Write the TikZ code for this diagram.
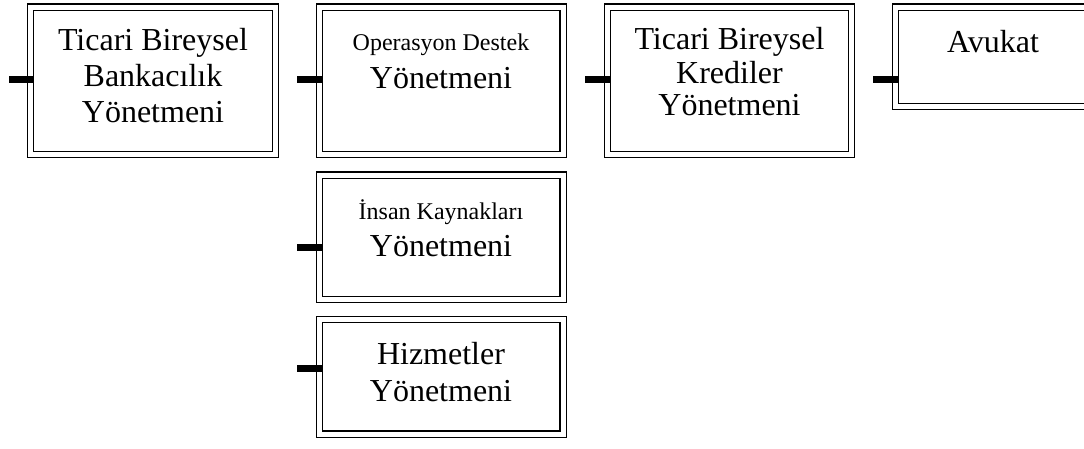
\documentclass[tikz,border=0pt]{standalone}
\usepackage{fontspec}
\setmainfont{Liberation Serif}
\begin{document}
\begin{tikzpicture}[x=1pt,y=-1pt,
  unit/.style={draw, double=white, double distance=5pt, line width=1.4pt,
    inner sep=0pt, outer sep=0pt},
  big/.style={font=\fontsize{32}{36}\selectfont, anchor=base, inner sep=0pt},
  small/.style={font=\fontsize{24}{28}\selectfont, anchor=base, inner sep=0pt},
  stub/.style={line width=7pt, shorten >=-3pt}]
\useasboundingbox (0,0) rectangle (1084,448);
\clip (0,0) rectangle (1084,448);

% double-framed units
\node[unit, minimum width=245pt, minimum height=147.5pt] (b1) at (153,80.75) {};
\node[unit, minimum width=243.5pt, minimum height=147.5pt] (b2) at (441.25,80.75) {};
\node[unit, minimum width=244pt, minimum height=147.5pt] (b3) at (729.5,80.75) {};
\node[unit, minimum width=244.5pt, minimum height=99.5pt] (b4) at (1017.75,56.75) {};
\node[unit, minimum width=243.5pt, minimum height=124.5pt] (b5) at (441.25,237.25) {};
\node[unit, minimum width=243.5pt, minimum height=114.5pt] (b6) at (441.25,376.75) {};

% titles
\node[big] (t1a) at (153,50) {Ticari Bireysel};
\node[big] (t1b) at (153,86) {Bankacılık};
\node[big] (t1c) at (153,122) {Yönetmeni};
\node[small] (t2a) at (441,50) {Operasyon Destek};
\node[big] (t2b) at (441,88) {Yönetmeni};
\node[big] (t3a) at (729.5,49) {Ticari Bireysel};
\node[big] (t3b) at (729.5,83) {Krediler};
\node[big] (t3c) at (729.5,115) {Yönetmeni};
\node[big] (t4) at (993,52) {Avukat};
\node[small] (t5a) at (441,219) {İnsan Kaynakları};
\node[big] (t5b) at (441,256) {Yönetmeni};
\node[big] (t6a) at (441,364) {Hizmetler};
\node[big] (t6b) at (441,401) {Yönetmeni};

% stubs leading into each unit
\coordinate (s1) at (9,79.5);
\coordinate (s2) at (297,79.5);
\coordinate (s3) at (585,79.5);
\coordinate (s4) at (873,79.5);
\coordinate (s5) at (297,247.5);
\coordinate (s6) at (297,368.5);
\draw[stub] (s1) -- (s1 -| b1.west);
\draw[stub] (s2) -- (s2 -| b2.west);
\draw[stub] (s3) -- (s3 -| b3.west);
\draw[stub] (s4) -- (s4 -| b4.west);
\draw[stub] (s5) -- (s5 -| b5.west);
\draw[stub] (s6) -- (s6 -| b6.west);
\end{tikzpicture}
\end{document}
